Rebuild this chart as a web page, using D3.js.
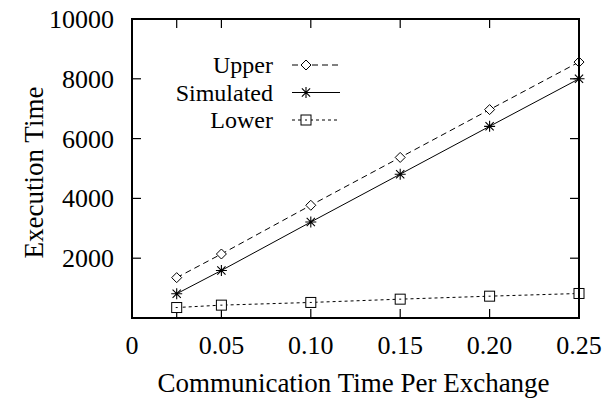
<!DOCTYPE html>
<html>
<head>
<meta charset="utf-8">
<script src="https://cdn.jsdelivr.net/npm/d3@7"></script>
<style>
  body { margin: 0; background: #fff; }
  svg text { font-family: "Liberation Serif", "Times New Roman", Times, serif; fill: #000; }
</style>
</head>
<body>
<svg id="chart" width="605" height="400"></svg>
<script>
// data
const commTime = [0.025, 0.05, 0.10, 0.15, 0.20, 0.25];
const upper = [1350, 2140, 3770, 5370, 6970, 8560];
const simulated = [810, 1590, 3210, 4810, 6410, 8000];
const lower = [350, 430, 520, 630, 730, 820];
const xLabels = [0, 0.05, 0.10, 0.15, 0.20, 0.25];
const yTicks = [2000, 4000, 6000, 8000, 10000];

const margin = { top: 19, right: 26, bottom: 82, left: 132 };
const width = 605 - margin.left - margin.right;
const height = 400 - margin.top - margin.bottom;

const svg = d3.select("#chart")
  .append("g")
  .attr("transform", `translate(${margin.left},${margin.top})`);

const x = d3.scaleLinear().domain([0, 0.25]).range([0, width]);
const y = d3.scaleLinear().domain([0, 10000]).range([height, 0]);

// tick marks (inward, mirrored on top/right)
const tickLen = 9;
svg.selectAll(".xtick-b").data(commTime).enter().append("line")
  .attr("x1", d => x(d)).attr("x2", d => x(d))
  .attr("y1", height).attr("y2", height - tickLen)
  .attr("stroke", "#000").attr("stroke-width", 1.2);
svg.selectAll(".xtick-t").data(commTime).enter().append("line")
  .attr("x1", d => x(d)).attr("x2", d => x(d))
  .attr("y1", 0).attr("y2", tickLen)
  .attr("stroke", "#000").attr("stroke-width", 1.2);
svg.selectAll(".ytick-l").data(yTicks).enter().append("line")
  .attr("x1", 0).attr("x2", tickLen)
  .attr("y1", d => y(d)).attr("y2", d => y(d))
  .attr("stroke", "#000").attr("stroke-width", 1.2);
svg.selectAll(".ytick-r").data(yTicks).enter().append("line")
  .attr("x1", width).attr("x2", width - tickLen)
  .attr("y1", d => y(d)).attr("y2", d => y(d))
  .attr("stroke", "#000").attr("stroke-width", 1.2);

// tick labels
const fmtX = d => d === 0 ? "0" : d.toFixed(2);
svg.selectAll(".xlabel").data(xLabels).enter().append("text")
  .attr("x", d => x(d)).attr("y", height + 36)
  .attr("text-anchor", "middle").attr("font-size", 26)
  .text(fmtX);
svg.selectAll(".ylabel").data(yTicks).enter().append("text")
  .attr("x", -18).attr("y", d => y(d) + 9)
  .attr("text-anchor", "end").attr("font-size", 26)
  .text(d => d);

// axis titles
svg.append("text")
  .attr("x", width / 2 - 2).attr("y", height + 74)
  .attr("text-anchor", "middle").attr("font-size", 27)
  .text("Communication Time Per Exchange");
svg.append("text")
  .attr("transform", `translate(${-89},${height / 2 + 4}) rotate(-90)`)
  .attr("text-anchor", "middle").attr("font-size", 27)
  .text("Execution Time");

// series
const series = [
  { name: "Upper", values: upper, dash: "6,4", marker: "diamond" },
  { name: "Simulated", values: simulated, dash: null, marker: "star" },
  { name: "Lower", values: lower, dash: "3,3", marker: "square" }
];

const line = d3.line()
  .x((d, i) => x(commTime[i]))
  .y(d => y(d));

function drawMarker(g, type, cx, cy) {
  if (type === "diamond") {
    g.append("path")
      .attr("d", `M${cx},${cy - 5}L${cx + 5},${cy}L${cx},${cy + 5}L${cx - 5},${cy}Z`)
      .attr("fill", "#fff").attr("stroke", "#000").attr("stroke-width", 1);
  } else if (type === "star") {
    const r = 5.5;
    g.append("path")
      .attr("d", `M${cx - r},${cy}H${cx + r}M${cx},${cy - r}V${cy + r}` +
        `M${cx - r * 0.75},${cy - r * 0.75}L${cx + r * 0.75},${cy + r * 0.75}` +
        `M${cx - r * 0.75},${cy + r * 0.75}L${cx + r * 0.75},${cy - r * 0.75}`)
      .attr("stroke", "#000").attr("stroke-width", 1.1);
  } else {
    g.append("rect")
      .attr("x", cx - 5).attr("y", cy - 5).attr("width", 10).attr("height", 10)
      .attr("fill", "#fff").attr("stroke", "#000").attr("stroke-width", 1);
    g.append("line")
      .attr("x1", cx - 1).attr("x2", cx + 1).attr("y1", cy).attr("y2", cy)
      .attr("stroke", "#000").attr("stroke-width", 1);
  }
}

series.forEach(s => {
  svg.append("path")
    .datum(s.values)
    .attr("d", line)
    .attr("fill", "none")
    .attr("stroke", "#000")
    .attr("stroke-width", 1)
    .attr("stroke-dasharray", s.dash);
  const g = svg.append("g");
  s.values.forEach((v, i) => drawMarker(g, s.marker, x(commTime[i]), y(v)));
});

// legend
const legend = svg.append("g");
series.forEach((s, i) => {
  const ly = 46 + i * 27.5;
  legend.append("text")
    .attr("x", 141).attr("y", ly + 8)
    .attr("text-anchor", "end").attr("font-size", 24)
    .text(s.name);
  legend.append("line")
    .attr("x1", 160).attr("x2", 208)
    .attr("y1", ly).attr("y2", ly)
    .attr("stroke", "#000").attr("stroke-width", 1)
    .attr("stroke-dasharray", s.dash);
  drawMarker(legend, s.marker, 174, ly);
});

// border
svg.append("rect")
  .attr("x", 0).attr("y", 0).attr("width", width).attr("height", height)
  .attr("fill", "none").attr("stroke", "#000").attr("stroke-width", 2);
</script>
</body>
</html>
